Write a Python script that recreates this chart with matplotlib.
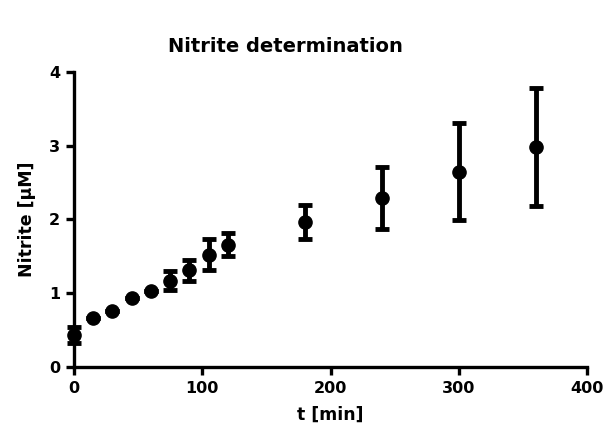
import matplotlib
matplotlib.use("Agg")
import matplotlib.pyplot as plt

# Data
t_min = [0, 15, 30, 45, 60, 75, 90, 105, 120, 180, 240, 300, 360]
nitrite = [0.43, 0.67, 0.76, 0.94, 1.03, 1.17, 1.31, 1.52, 1.66, 1.97, 2.29, 2.65, 2.98]
nitrite_err = [0.11, 0.0, 0.0, 0.0, 0.0, 0.13, 0.14, 0.21, 0.16, 0.23, 0.42, 0.66, 0.80]
x_ticks = [0, 100, 200, 300, 400]
y_ticks = [0, 1, 2, 3, 4]

plt.rcParams['font.family'] = ['DejaVu Sans']
plt.rcParams['font.weight'] = 'bold'

fig = plt.figure(figsize=(6.07, 4.37), dpi=100)
ax = fig.add_axes([74/607, 1-367/437, (587-74)/607, (367-72)/437])

ax.errorbar(t_min, nitrite, yerr=nitrite_err, fmt='o', color='black',
            ms=9.5, elinewidth=3.5, capsize=5, capthick=3.5, clip_on=False, zorder=3)

ax.set_xlim(0, 400)
ax.set_ylim(0, 4)
ax.set_xticks(x_ticks)
ax.set_yticks(y_ticks)
for s in ['top', 'right']:
    ax.spines[s].set_visible(False)
for s in ['left', 'bottom']:
    ax.spines[s].set_linewidth(2.4)
ax.tick_params(direction='out', length=6, width=2.4, labelsize=11.5, pad=4)
for lab in ax.get_xticklabels() + ax.get_yticklabels():
    lab.set_fontweight('bold')

ax.set_xlabel('t [min]', fontsize=12.5, fontweight='bold', labelpad=7)
ax.set_ylabel('Nitrite [µM]', fontsize=12.5, fontweight='bold', labelpad=9)
fig.text(285/607, 1-47/437, 'Nitrite determination', ha='center', va='center',
         fontsize=14, fontweight='bold')

fig.savefig('out.png', dpi=100)
